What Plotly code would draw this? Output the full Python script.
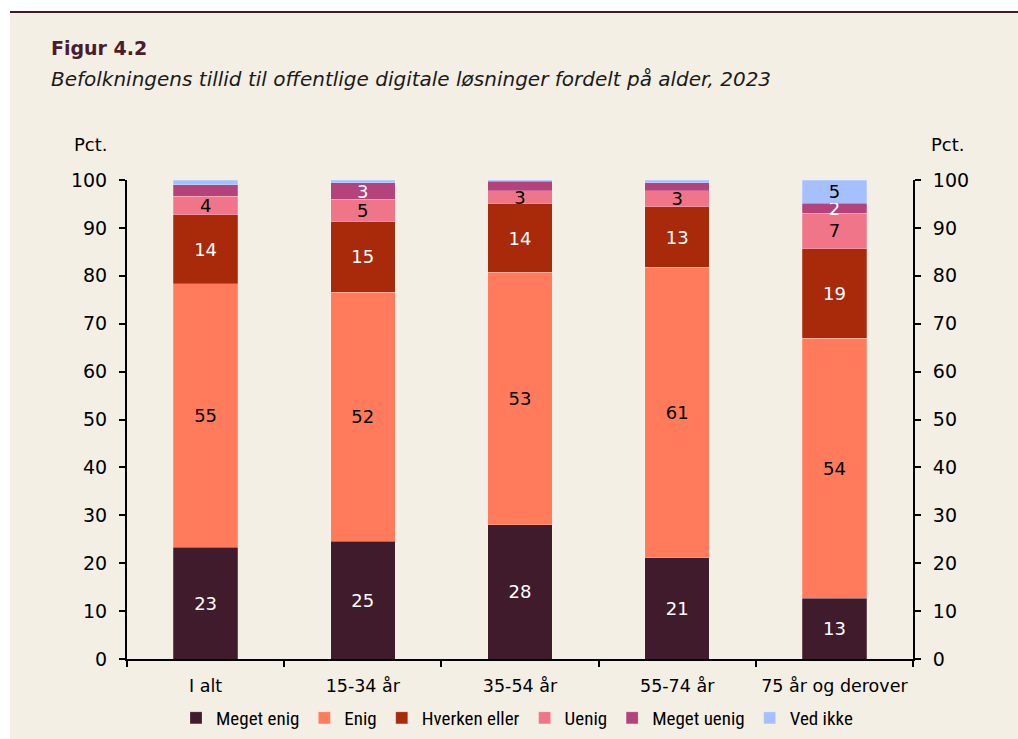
import plotly.graph_objects as go

categories = ["I alt", "15-34 år", "35-54 år", "55-74 år", "75 år og derover"]
series_names = ["Meget enig", "Enig", "Hverken eller", "Uenig", "Meget uenig", "Ved ikke"]

meget_enig = [23.3, 24.6, 28.0, 21.1, 12.7]
enig = [55.0, 52.0, 52.7, 60.7, 54.3]
hverken = [14.4, 14.7, 14.3, 12.6, 18.7]
uenig = [3.9, 4.7, 2.8, 3.4, 7.4]
meget_uenig = [2.4, 3.4, 1.9, 1.6, 2.0]
ved_ikke = [1.0, 0.6, 0.3, 0.6, 4.9]

# which segments carry a value label
show_label = [
    [True, True, True, True, True],
    [True, True, True, True, True],
    [True, True, True, True, True],
    [True, True, True, True, True],
    [False, True, False, False, True],
    [False, False, False, False, True],
]

values = [meget_enig, enig, hverken, uenig, meget_uenig, ved_ikke]
colors = ["#3f1b2b", "#ff7b5c", "#a82a0a", "#f07588", "#b3437a", "#a6c0ff"]
text_colors = ["white", "black", "white", "black", "white", "black"]

BG = "#f4efe4"
FONT = "DejaVu Sans"
NARROW = "Liberation Sans Narrow, Roboto Condensed, Liberation Sans"

fig = go.Figure()
for name, vals, col, tcol, mask in zip(series_names, values, colors, text_colors, show_label):
    fig.add_trace(go.Bar(
        x=categories, y=vals, name=name,
        marker=dict(color=col, line=dict(width=0.6, color="rgba(255,255,255,0.35)")),
        text=[str(round(v)) if m else "" for v, m in zip(vals, mask)],
        textposition="inside", insidetextanchor="middle", textangle=0,
        constraintext="none",
        textfont=dict(family=FONT, size=18, color=tcol),
        hoverinfo="skip",
    ))

# invisible trace for right axis
fig.add_trace(go.Scatter(x=categories, y=[None]*5, yaxis="y2", showlegend=False,
                         hoverinfo="skip", mode="markers"))

L, R, T, B = 127, 105, 180, 80
W, H = 1018, 739
pw, ph = W - L - R, H - T - B

def px(x):
    return (x - L) / pw

def py(y):
    return (H - B - y) / ph

shapes = [
    # white strips on top and left
    dict(type="rect", xref="paper", yref="paper", x0=px(-5), x1=px(W + 5), y0=py(11), y1=py(-5),
         fillcolor="white", line=dict(width=0), layer="below"),
    dict(type="rect", xref="paper", yref="paper", x0=px(-5), x1=px(10), y0=py(H + 5), y1=py(-5),
         fillcolor="white", line=dict(width=0), layer="below"),
    dict(type="line", xref="paper", yref="paper", x0=px(10), x1=px(W + 5), y0=py(12), y1=py(12),
         line=dict(color="#3f1b2b", width=2)),
]

annotations = [
    dict(text="<b>Figur 4.2</b>", xref="paper", yref="paper", x=px(49), y=py(48),
         xanchor="left", yanchor="middle", showarrow=False,
         font=dict(family=FONT, size=19, color="#4a1c2c")),
    dict(text="<i>Befolkningens tillid til offentlige digitale løsninger fordelt på alder, 2023</i>",
         xref="paper", yref="paper", x=px(49), y=py(79),
         xanchor="left", yanchor="middle", showarrow=False,
         font=dict(family=FONT, size=20, color="#1a1a1a")),
    dict(text="Pct.", xref="paper", yref="paper", x=px(91), y=py(145),
         xanchor="center", yanchor="middle", showarrow=False,
         font=dict(family=FONT, size=18, color="black")),
    dict(text="Pct.", xref="paper", yref="paper", x=px(948), y=py(145),
         xanchor="center", yanchor="middle", showarrow=False,
         font=dict(family=FONT, size=18, color="black")),
]

axis_common = dict(range=[0, 100], tickvals=list(range(0, 101, 10)), showgrid=False,
                   zeroline=False, showline=True, linecolor="black", linewidth=2,
                   ticks="outside", ticklen=6, tickwidth=2, tickcolor="black",
                   ticklabelstandoff=8, automargin=False,
                   tickfont=dict(family=FONT, size=19, color="black"), fixedrange=True)

fig.update_layout(
    width=W, height=H,
    margin=dict(l=L, r=R, t=T, b=B, autoexpand=False),
    paper_bgcolor=BG, plot_bgcolor=BG,
    barmode="stack", bargap=0.59,
    showlegend=True,
    legend=dict(orientation="h", x=px(517), xanchor="center",
                yref="container", y=(H - 718) / H, yanchor="middle",
                font=dict(family=NARROW, size=19, color="black"), bgcolor="rgba(0,0,0,0)",
                itemwidth=30, tracegroupgap=0, traceorder="normal"),
    xaxis=dict(showgrid=False, zeroline=False, showline=True, linecolor="black", linewidth=2,
               ticks="outside", tickson="boundaries", ticklen=6, tickwidth=2, tickcolor="black",
               tickangle=0, automargin=False, ticklabelstandoff=10,
               tickfont=dict(family=FONT, size=17.5, color="black"), fixedrange=True),
    yaxis=dict(side="left", **axis_common),
    yaxis2=dict(side="right", overlaying="y", **axis_common),
    shapes=shapes,
    annotations=annotations,
)

fig.write_html("out.html", config={"displayModeBar": False},
               post_script="document.body.style.margin='0';document.body.style.overflow='hidden';")
